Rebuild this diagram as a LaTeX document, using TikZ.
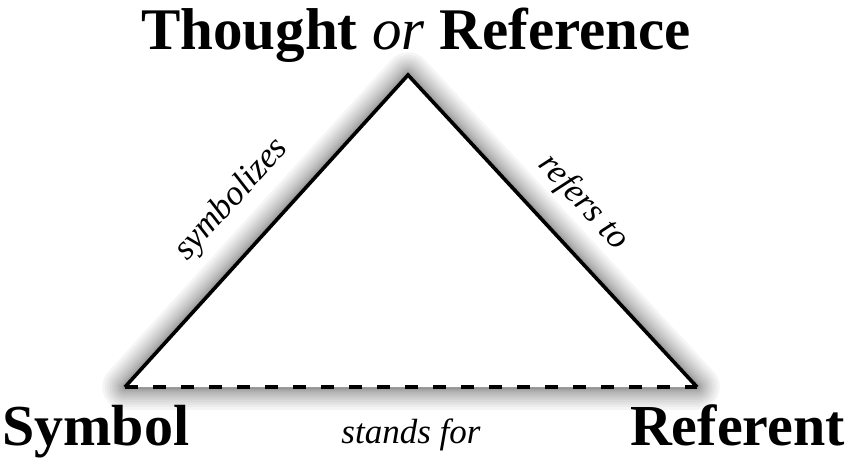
\documentclass[tikz,border=0pt]{standalone}
\usepackage{fontspec}
\setmainfont{Liberation Serif}[
    BoldFont       = {Liberation Serif Bold},
    ItalicFont     = {Liberation Serif Italic},
    BoldItalicFont = {Liberation Serif Bold Italic}]
\usetikzlibrary{positioning}
\definecolor{glowgray}{RGB}{30, 30, 30}

\begin{document}
\begin{tikzpicture}[x=1pt, y=-1pt,
    side/.style={line width=3.6pt, line join=miter},
    basedash/.style={line width=3.6pt, dash pattern=on 13pt off 15pt},
    glow/.style={line width=#1, glowgray, opacity=0.042, line join=round},
    cornertext/.style={font=\fontsize{58}{60}\selectfont\bfseries, inner sep=0pt},
    edgetext/.style={font=\fontsize{35}{38}\selectfont\itshape, inner sep=0pt}]
    \useasboundingbox                                              (0, 0) rectangle (850, 465);
    \coordinate (apex) at (408, 75);
    \coordinate (sym)  at (125,387);
    \coordinate (ref)  at (697,387);
    % soft shadow round the triangle
    \foreach \i in {1,...,16}
        \draw[glow=2pt+0.17pt*\i*\i] (sym) -- (apex) -- (ref) -- cycle;
    \fill[white] (sym) -- (apex) -- (ref) -- cycle;
    \draw[side] (sym) -- node[edgetext, sloped, above=29pt, pos=0.50] (symbolizes) {symbolizes} (apex)
                      -- node[edgetext, sloped, above=24pt, pos=0.50] (refersto) {refers to} (ref);
    \draw[basedash] (sym) -- node[edgetext, below=30pt] (standsfor) {stands for} (ref);
    \node[cornertext, font=\fontsize{59}{60}\selectfont\bfseries, anchor=base] (thought) at (416, 50) {Thought \textmd{\itshape or} Reference};
    \node[cornertext, anchor=base west] (symbol)   at (2, 445)  {Symbol};
    \node[cornertext, anchor=base east] (referent) at (845, 445) {Referent};
\end{tikzpicture}
\end{document}
